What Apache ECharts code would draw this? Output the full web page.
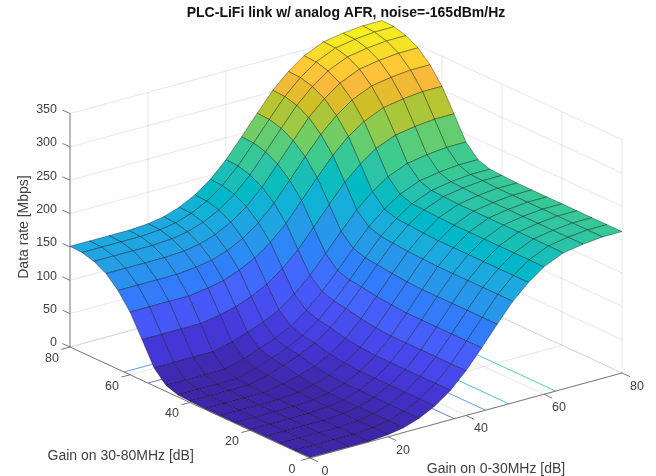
<!DOCTYPE html>
<html><head><meta charset="utf-8">
<style>html,body{margin:0;padding:0;background:#fff}#c{width:656px;height:476px}</style>
<script src="https://cdn.jsdelivr.net/npm/echarts@6/dist/echarts.min.js"></script>
</head><body><div id="c"></div>
<script>
const titleText = 'PLC-LiFi link w/ analog AFR, noise=-165dBm/Hz';
const xName = 'Gain on 0-30MHz [dB]';
const yName = 'Gain on 30-80MHz [dB]';
const zName = 'Data rate [Mbps]';
const gainLow = [0,5,10,15,20,24,28,32,36,40,44,48,52,56,60,65,70,75,80];
const gainHigh = [0,5,10,15,20,25,30,35,40,44,48,52,56,60,64,68,72,76,80];
const xTicks = [0,20,40,60,80];
const yTicks = [0,20,40,60,80];
const zTicks = [0,50,100,150,200,250,300,350];
// rows: gainHigh, columns: gainLow
const dataRate = [
[1,1,1,1,3,7,15,27,44,67,95,124,152,174,191,204,209,212,212],
[1,1,1,1,3,7,15,27,44,67,95,124,152,174,191,204,209,212,212],
[1,1,1,1,3,7,15,27,44,67,95,124,152,174,191,204,209,212,212],
[1,1,1,1,3,7,15,27,44,67,95,124,152,174,191,204,209,212,212],
[1,1,1,1,3,7,15,27,44,67,95,124,152,174,191,204,209,212,212],
[1,1,1,1,3,7,15,27,44,67,95,124,152,174,191,204,209,212,212],
[1,1,1,1,4,9,17,29,46,69,97,125,153,174,191,204,209,212,212],
[1,1,1,1,6,12,20,32,49,72,99,127,154,175,192,204,209,212,212],
[2,2,2,2,9,17,26,38,55,77,103,130,156,177,193,205,210,213,213],
[3,3,3,3,11,20,29,41,58,80,105,132,158,178,194,206,211,214,214],
[9,9,9,9,17,26,35,47,64,86,111,138,164,184,200,212,217,220,220],
[27,27,27,27,34,42,51,63,80,102,128,155,181,202,218,230,235,238,238],
[61,61,61,61,66,72,81,93,110,132,159,187,214,235,252,264,269,272,272],
[94,94,94,94,98,103,112,124,141,163,191,219,246,268,284,297,302,305,305],
[118,118,118,118,121,125,133,145,162,185,213,242,269,291,308,321,326,329,329],
[135,135,135,135,137,141,149,161,178,201,229,258,286,308,325,338,343,346,346],
[145,145,145,145,147,151,159,171,188,211,239,268,296,318,335,348,353,356,356],
[150,150,150,150,152,156,164,176,193,216,244,273,301,323,340,353,358,361,361],
[151,151,151,151,153,157,165,177,194,217,245,274,302,324,341,354,359,362,362]
];
// floor contours: [gain where the contour leaves the axis, level]
const contoursLow = [[37,50],[45,100],[51,150],[63,200]];
const contoursHigh = [[54,50],[62,100]];
const parula = [
[0.2422,0.1504,0.6603],[0.2504,0.1650,0.7076],[0.2578,0.1818,0.7511],[0.2647,0.1978,0.7952],
[0.2706,0.2147,0.8364],[0.2751,0.2342,0.8710],[0.2783,0.2559,0.8991],[0.2803,0.2782,0.9221],
[0.2813,0.3006,0.9414],[0.2810,0.3228,0.9579],[0.2795,0.3447,0.9717],[0.2760,0.3667,0.9829],
[0.2699,0.3892,0.9906],[0.2602,0.4123,0.9952],[0.2440,0.4358,0.9988],[0.2206,0.4603,0.9973],
[0.1963,0.4847,0.9892],[0.1834,0.5074,0.9798],[0.1786,0.5289,0.9682],[0.1764,0.5499,0.9520],
[0.1687,0.5703,0.9359],[0.1540,0.5902,0.9218],[0.1460,0.6091,0.9079],[0.1380,0.6276,0.8973],
[0.1248,0.6459,0.8883],[0.1113,0.6635,0.8763],[0.0952,0.6798,0.8598],[0.0689,0.6948,0.8394],
[0.0297,0.7082,0.8163],[0.0036,0.7203,0.7917],[0.0067,0.7312,0.7660],[0.0433,0.7411,0.7394],
[0.0964,0.7500,0.7120],[0.1408,0.7584,0.6842],[0.1717,0.7670,0.6554],[0.1938,0.7758,0.6251],
[0.2161,0.7843,0.5923],[0.2470,0.7918,0.5567],[0.2906,0.7973,0.5188],[0.3406,0.8008,0.4789],
[0.3909,0.8029,0.4354],[0.4456,0.8024,0.3909],[0.5044,0.7993,0.3480],[0.5616,0.7942,0.3045],
[0.6174,0.7876,0.2612],[0.6720,0.7793,0.2227],[0.7242,0.7698,0.1910],[0.7738,0.7598,0.1646],
[0.8203,0.7498,0.1535],[0.8634,0.7406,0.1596],[0.9035,0.7330,0.1774],[0.9393,0.7288,0.2100],
[0.9728,0.7298,0.2394],[0.9956,0.7434,0.2371],[0.9970,0.7659,0.2199],[0.9952,0.7893,0.2028],
[0.9892,0.8136,0.1885],[0.9786,0.8386,0.1766],[0.9676,0.8639,0.1643],[0.9610,0.8890,0.1537],
[0.9597,0.9135,0.1423],[0.9628,0.9373,0.1265],[0.9691,0.9606,0.1064],[0.9769,0.9839,0.0805]
];
const colorMin = 0, colorMax = 375;

// orthographic view of the box
function proj(x, y, z) {
  return [310 + 3.9 * x - 3 * y, 458 - 1.0625 * x - 1.3875 * y - 0.667 * z];
}
function colorOf(v) {
  const k = Math.max(0, Math.min(63, Math.floor((v - colorMin) / (colorMax - colorMin) * 64)));
  const c = parula[k];
  return 'rgb(' + c.map(t => Math.round(t * 255)).join(',') + ')';
}

// box decorations: [x0,y0,z0,x1,y1,z1,kind]
const segs = [];
const wallTop = 350;
zTicks.forEach(z => {
  segs.push([0,80,z,80,80,z,'grid']);
  segs.push([80,80,z,80,0,z,'grid']);
});
xTicks.forEach(x => {
  segs.push([x,80,0,x,80,wallTop,'grid']);
  segs.push([x,0,0,x,80,0,'grid']);
});
yTicks.forEach(y => {
  segs.push([80,y,0,80,y,wallTop,'grid']);
  segs.push([0,y,0,80,y,0,'grid']);
});
contoursLow.forEach(c => segs.push([c[0],0,0,c[0],45,0,colorOf(c[1])]));
contoursHigh.forEach(c => segs.push([0,c[0],0,30,c[0],0,colorOf(c[1])]));
segs.push([0,80,0,0,80,wallTop,'zaxis']);
segs.push([0,0,0,0,80,0,'axis']);
segs.push([0,0,0,80,0,0,'axis']);
zTicks.forEach(z => segs.push([0,80,z,0,82.5,z,'tick']));
xTicks.forEach(x => segs.push([x,0,0,x,-2.7,0,'tick']));
yTicks.forEach(y => segs.push([0,y,0,-2.2,y,0,'tick']));

const faces = [];
for (let j = gainHigh.length - 2; j >= 0; j--) {
  for (let i = gainLow.length - 2; i >= 0; i--) faces.push([i, j]);
}

// labels: [screen x, screen y, text, align, rotation, font]
const tickFont = '12.5px "Liberation Sans", Arial, sans-serif';
const nameFont = '14px "Liberation Sans", Arial, sans-serif';
const labels = [];
zTicks.forEach(z => { const p = proj(0,80,z); labels.push([p[0]-13, p[1]-4, String(z), 'right', 0, tickFont]); });
xTicks.forEach(x => { const p = proj(x,0,0); labels.push([p[0]+15, p[1]+13.5, String(x), 'center', 0, tickFont]); });
yTicks.forEach(y => { const p = proj(0,y,0); labels.push([p[0]-18, p[1]+11.5, String(y), 'center', 0, tickFont]); });
labels.push([120.7, 456, yName, 'center', 0, nameFont]);
labels.push([496, 469.5, xName, 'center', 0, nameFont]);
labels.push([24, 227, zName, 'center', Math.PI/2, nameFont]);

const segStyle = {
  grid: {stroke:'rgba(38,38,38,0.11)', lineWidth:1},
  zaxis: {stroke:'#a0a0a0', lineWidth:1.4},
  axis: {stroke:'#7a7a7a', lineWidth:1},
  tick: {stroke:'#666', lineWidth:0.9}
};

const chart = echarts.init(document.getElementById('c'), null, {renderer:'canvas'});
chart.setOption({
  animation: false,
  backgroundColor: '#fff',
  title: {text: titleText, left: 341, top: 1, textAlign: 'center',
    textStyle: {fontFamily:'"Liberation Sans", Arial, sans-serif', fontWeight:'bold', fontSize:14, color:'#111'}},
  grid: {left:0, right:0, top:0, bottom:0},
  xAxis: {type:'value', min:0, max:656, show:false},
  yAxis: {type:'value', min:0, max:476, inverse:true, show:false},
  series: [
    {type:'custom', silent:true, clip:false, data: segs.map((s,i)=>[i]), z:1,
      renderItem(params, api) {
        const s = segs[api.value(0)];
        const a = api.coord(proj(s[0],s[1],s[2])), b = api.coord(proj(s[3],s[4],s[5]));
        const st = segStyle[s[6]] || {stroke:s[6], lineWidth:0.8};
        return {type:'line', shape:{x1:a[0],y1:a[1],x2:b[0],y2:b[1]}, style:{stroke:st.stroke, lineWidth:st.lineWidth, fill:null}};
      }},
    {type:'custom', silent:true, clip:false, data: faces, z:2,
      renderItem(params, api) {
        const i = api.value(0), j = api.value(1);
        const corner = (a,b) => api.coord(proj(gainLow[a], gainHigh[b], dataRate[b][a]));
        return {type:'polygon', shape:{points:[corner(i,j),corner(i+1,j),corner(i+1,j+1),corner(i,j+1)]},
          style:{fill:colorOf(dataRate[j][i]), stroke:'rgba(0,0,0,0.5)', lineWidth:0.7, lineJoin:'round'}};
      }},
    {type:'custom', silent:true, clip:false, data: labels.map((s,i)=>[i]), z:3,
      renderItem(params, api) {
        const l = labels[api.value(0)];
        const p = api.coord([l[0], l[1]]);
        return {type:'text', x:p[0], y:p[1], rotation:l[4],
          style:{text:l[2], align:l[3], verticalAlign:'middle', font:l[5], fill:'#404040'}};
      }}
  ]
});
</script></body></html>
